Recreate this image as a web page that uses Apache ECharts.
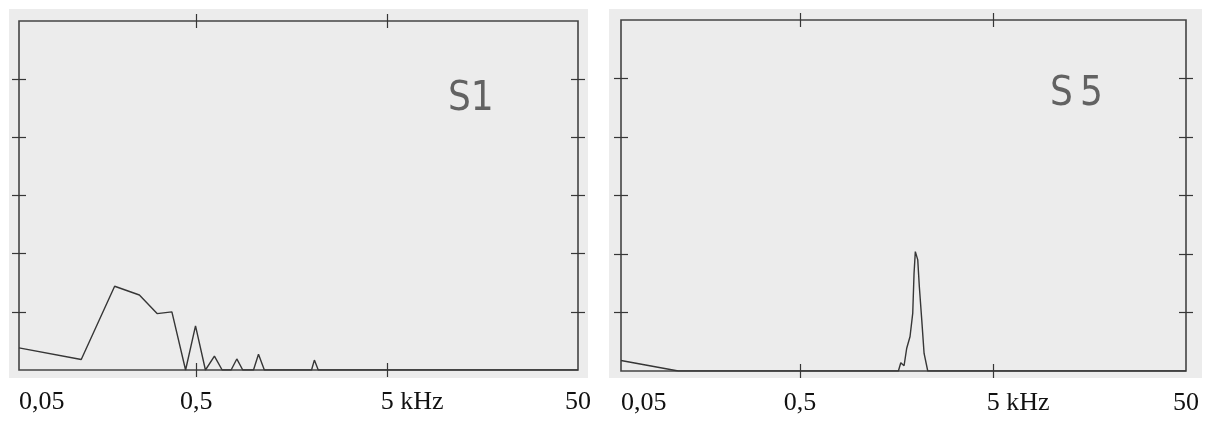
<!DOCTYPE html>
<html>
<head>
<meta charset="utf-8">
<script src="https://cdn.jsdelivr.net/npm/echarts@6/dist/echarts.min.js"></script>
<style>
  html, body { margin: 0; padding: 0; background: #ffffff; }
  #chart { width: 1205px; height: 423px; }
</style>
</head>
<body>
<div id="chart"></div>
<script>
// Frequency axis in kHz (logarithmic), same for both panels
const freqMin = 0.059;
const freqMax = 50;
const freqTicks = [0.5, 5];
const freqLabelValues = [0.059, 0.5, 5, 50];
const freqLabels = ['0,05', '0,5', '5', '50'];
const freqUnit = 'kHz';

// Amplitude grid: six equal divisions, no numbers
const ampMax = 6;
const ampTicks = [1, 2, 3, 4, 5];

const panelNames = ['S1', 'S\u20095'];

// Spectrum S1: [kHz, amplitude]
const spectrumS1 = [
  [0.059, 0.38], [0.125, 0.18], [0.187, 1.44], [0.252, 1.29], [0.312, 0.97],
  [0.373, 1.00], [0.440, 0], [0.496, 0.76], [0.559, 0], [0.623, 0.24],
  [0.684, 0], [0.762, 0], [0.816, 0.19], [0.877, 0], [0.998, 0],
  [1.06, 0.27], [1.138, 0], [2.01, 0], [2.08, 0.17], [2.18, 0],
  [3.17, 0], [3.24, 0.03], [3.32, 0], [50, 0]
];

// Spectrum S5: [kHz, amplitude]
const spectrumS5 = [
  [0.059, 0.18], [0.117, 0], [1.616, 0], [1.663, 0.14], [1.695, 0.16],
  [1.729, 0.09], [1.785, 0.39], [1.857, 0.59], [1.918, 0.99], [1.948, 1.67],
  [1.978, 2.04], [2.036, 1.90], [2.075, 1.44], [2.136, 0.87], [2.196, 0.30],
  [2.294, 0], [50, 0]
];

const ink = '#363636';
const paper = '#ececec';

const grids = [
  { left: 19, top: 21, width: 559, height: 349 },
  { left: 621, top: 20, width: 565, height: 351 }
];

// Picks the label whose value is closest (in log space) to the tick value
function labelFor(value) {
  let best = 0;
  for (let i = 1; i < freqLabelValues.length; i++) {
    if (Math.abs(Math.log(freqLabelValues[i]) - Math.log(value)) <
        Math.abs(Math.log(freqLabelValues[best]) - Math.log(value))) best = i;
  }
  const txt = freqLabels[best];
  // the unit trails the "5" so the digit itself sits under its tick
  if (txt === '5') return '{pad|}{v|' + txt + '}{v| ' + freqUnit + '}';
  return '{v|' + txt + '}';
}

const xAxes = [];
const yAxes = [];
grids.forEach((g, gi) => {
  // bottom axis carries the labels; ticks straddle the frame line
  xAxes.push({
    gridIndex: gi, type: 'log', logBase: 10, min: freqMin, max: freqMax,
    position: 'bottom', offset: -7,
    axisLine: { show: false, onZero: false },
    axisTick: { show: true, inside: false, length: 14, customValues: freqTicks,
                lineStyle: { color: ink, width: 1.2 } },
    axisLabel: {
      show: true, customValues: freqLabelValues, margin: 26,
      alignMinLabel: 'left', alignMaxLabel: 'center',
      formatter: labelFor,
      rich: {
        v: { fontFamily: 'Liberation Serif', fontSize: 26, color: '#111' },
        pad: { width: 50 }
      }
    },
    splitLine: { show: false }, minorTick: { show: false }
  });
  xAxes.push({
    gridIndex: gi, type: 'log', logBase: 10, min: freqMin, max: freqMax,
    position: 'top', offset: -7,
    axisLine: { show: false, onZero: false },
    axisTick: { show: true, inside: false, length: 14, customValues: freqTicks,
                lineStyle: { color: ink, width: 1.2 } },
    axisLabel: { show: false },
    splitLine: { show: false }
  });
  ['left', 'right'].forEach(pos => {
    yAxes.push({
      gridIndex: gi, type: 'value', min: 0, max: ampMax, interval: 1,
      position: pos, offset: -7,
      axisLine: { show: false, onZero: false },
      axisTick: { show: true, inside: false, length: 14, customValues: ampTicks,
                  lineStyle: { color: ink, width: 1.2 } },
      axisLabel: { show: false },
      splitLine: { show: false }
    });
  });
});

const chart = echarts.init(document.getElementById('chart'), null, { renderer: 'canvas' });

const nameStyle = {
  fontFamily: 'DejaVu Sans Condensed, DejaVu Sans',
  fontWeight: 'lighter', fontSize: 40, fill: '#626262'
};

chart.setOption({
  animation: false,
  backgroundColor: '#ffffff',
  grid: grids.map(g => Object.assign({
    show: true, borderColor: '#444', borderWidth: 1.6,
    backgroundColor: 'transparent', outerBoundsMode: 'none'
  }, g)),
  xAxis: xAxes,
  yAxis: yAxes,
  graphic: [
    { type: 'rect', z: -10, shape: { x: 9, y: 9, width: 579, height: 369 },
      style: { fill: paper } },
    { type: 'rect', z: -10, shape: { x: 609, y: 9, width: 593, height: 369 },
      style: { fill: paper } },
    { type: 'text', left: 448, top: 80,
      style: Object.assign({ text: panelNames[0] }, nameStyle) },
    { type: 'text', left: 1050, top: 75,
      style: Object.assign({ text: panelNames[1] }, nameStyle) }
  ],
  series: [
    { type: 'line', xAxisIndex: 0, yAxisIndex: 0, data: spectrumS1,
      showSymbol: false, lineStyle: { color: ink, width: 1.4 }, silent: true },
    { type: 'line', xAxisIndex: 2, yAxisIndex: 2, data: spectrumS5,
      showSymbol: false, lineStyle: { color: ink, width: 1.4 }, silent: true }
  ]
});
</script>
</body>
</html>
